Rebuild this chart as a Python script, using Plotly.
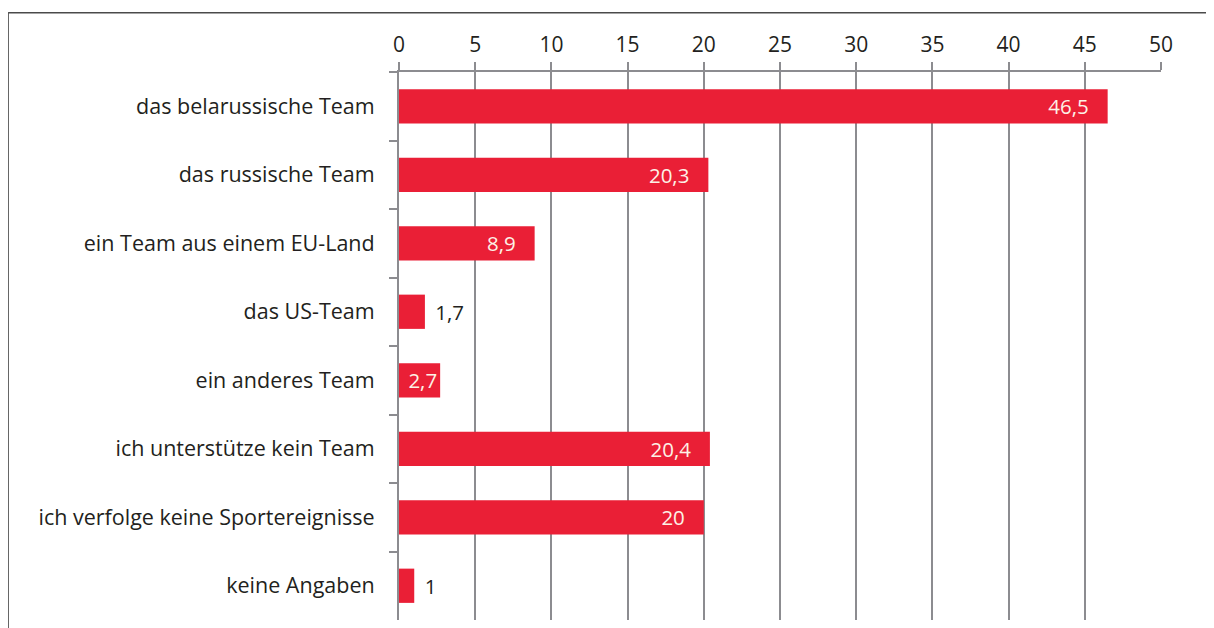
import plotly.graph_objects as go

categories = [
    "das belarussische Team",
    "das russische Team",
    "ein Team aus einem EU-Land",
    "das US-Team",
    "ein anderes Team",
    "ich unterstütze kein Team",
    "ich verfolge keine Sportereignisse",
    "keine Angaben",
]
values = [46.5, 20.3, 8.9, 1.7, 2.7, 20.4, 20, 1]
labels = ["46,5", "20,3", "8,9", "1,7", "2,7", "20,4", "20", "1"]
positions = ["inside", "inside", "inside", "outside", "inside", "inside", "inside", "outside"]

FONT = "Open Sans"
GRID = "#8c8c90"
NB = "\u00a0"

# padding around the value labels (trailing for inside, leading for outside)
texts = []
for lab, pos, v in zip(labels, positions, values):
    if pos == "outside":
        texts.append(NB + "\u200a" + lab)
    elif v < 5:
        texts.append(lab)
    else:
        texts.append(lab + NB * 3)

fig = go.Figure(go.Bar(
    y=categories, x=values, orientation="h",
    marker=dict(color="#ea1f36", line=dict(width=0)),
    text=texts, textposition=positions, insidetextanchor="end",
    insidetextfont=dict(color="#fdf1e6", size=20.5, family=FONT),
    outsidetextfont=dict(color="#231f20", size=20.5, family=FONT),
    constraintext="none", cliponaxis=False,
))

fig.update_layout(
    width=1214, height=628,
    margin=dict(l=391, r=61, t=64, b=16),
    paper_bgcolor="white", plot_bgcolor="white",
    font=dict(family=FONT, size=21, color="#231f20"),
    bargap=0.5, showlegend=False,
)
fig.update_xaxes(
    side="top", range=[0, 50], dtick=5, tick0=0,
    showgrid=True, gridcolor=GRID, gridwidth=2,
    showline=True, linecolor=GRID, linewidth=2,
    ticks="outside", ticklen=8, tickwidth=2, tickcolor=GRID,
    ticklabelstandoff=2, zeroline=False,
)
fig.update_yaxes(
    autorange="reversed", tickson="boundaries",
    showline=True, linecolor=GRID, linewidth=2,
    ticks="outside", ticklen=8, tickwidth=2, tickcolor=GRID,
    ticklabelstandoff=18, showgrid=False,
    tickfont=dict(size=21.5),
)
# outer frame (left and top edges)
fig.add_shape(type="line", xref="paper", yref="paper",
              x0=-0.513, x1=-0.513, y0=-0.2, y1=1.108,
              line=dict(color="#4a4a4a", width=1.5))
fig.add_shape(type="line", xref="paper", yref="paper",
              x0=-0.513, x1=1.2, y0=1.108, y1=1.108,
              line=dict(color="#4a4a4a", width=1.5))

fig.write_html("out.html")
